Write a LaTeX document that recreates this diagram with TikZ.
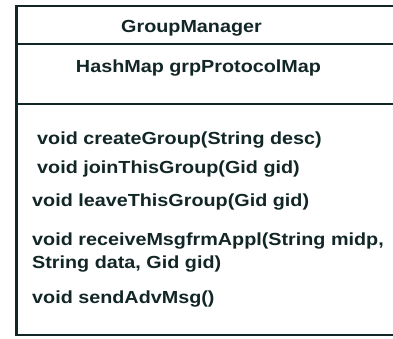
\documentclass[tikz,border=0pt]{standalone}
\usepackage{fontspec}
\setmainfont{Liberation Sans}
\definecolor{ink}{RGB}{18,38,38}
\newcommand{\wide}[1]{\scalebox{1.13}[1]{#1}}
\begin{document}
\begin{tikzpicture}[x=1pt,y=-1pt,
  txt/.style={inner sep=0pt,text=ink,font=\fontsize{17.5}{20}\selectfont\bfseries},
  rule/.style={draw=ink,line width=2.6pt}]
\useasboundingbox (0,0) rectangle (393,339);
\begin{scope}
\clip (0,0) rectangle (393,339);
% class box, open past the right edge
\draw[rule] (400,6) -- (16.5,6) -- (16.5,335) -- (400,335);
\draw[rule] (16.5,44) -- (400,44);
\draw[rule] (16.5,104) -- (400,104);
\end{scope}
% class name and attribute
\node[txt,anchor=base] (name) at (191.5,33) {\wide{GroupManager}};
\node[txt,anchor=base] (attr) at (198.5,73) {\wide{HashMap grpProtocolMap}};
% operations
\node[txt,anchor=base west] (op1) at (37,145) {\wide{void createGroup(String desc)}};
\node[txt,anchor=base west] (op2) at (37,173) {\wide{void joinThisGroup(Gid gid)}};
\node[txt,anchor=base west] (op3) at (32,206) {\wide{void leaveThisGroup(Gid gid)}};
\node[txt,anchor=base west] (op4) at (32,245) {\wide{void receiveMsgfrmAppl(String midp,}};
\node[txt,anchor=base west] (op4b) at (32,268) {\wide{String data, Gid gid)}};
\node[txt,anchor=base west] (op5) at (32,303) {\wide{void sendAdvMsg()}};
\end{tikzpicture}
\end{document}
